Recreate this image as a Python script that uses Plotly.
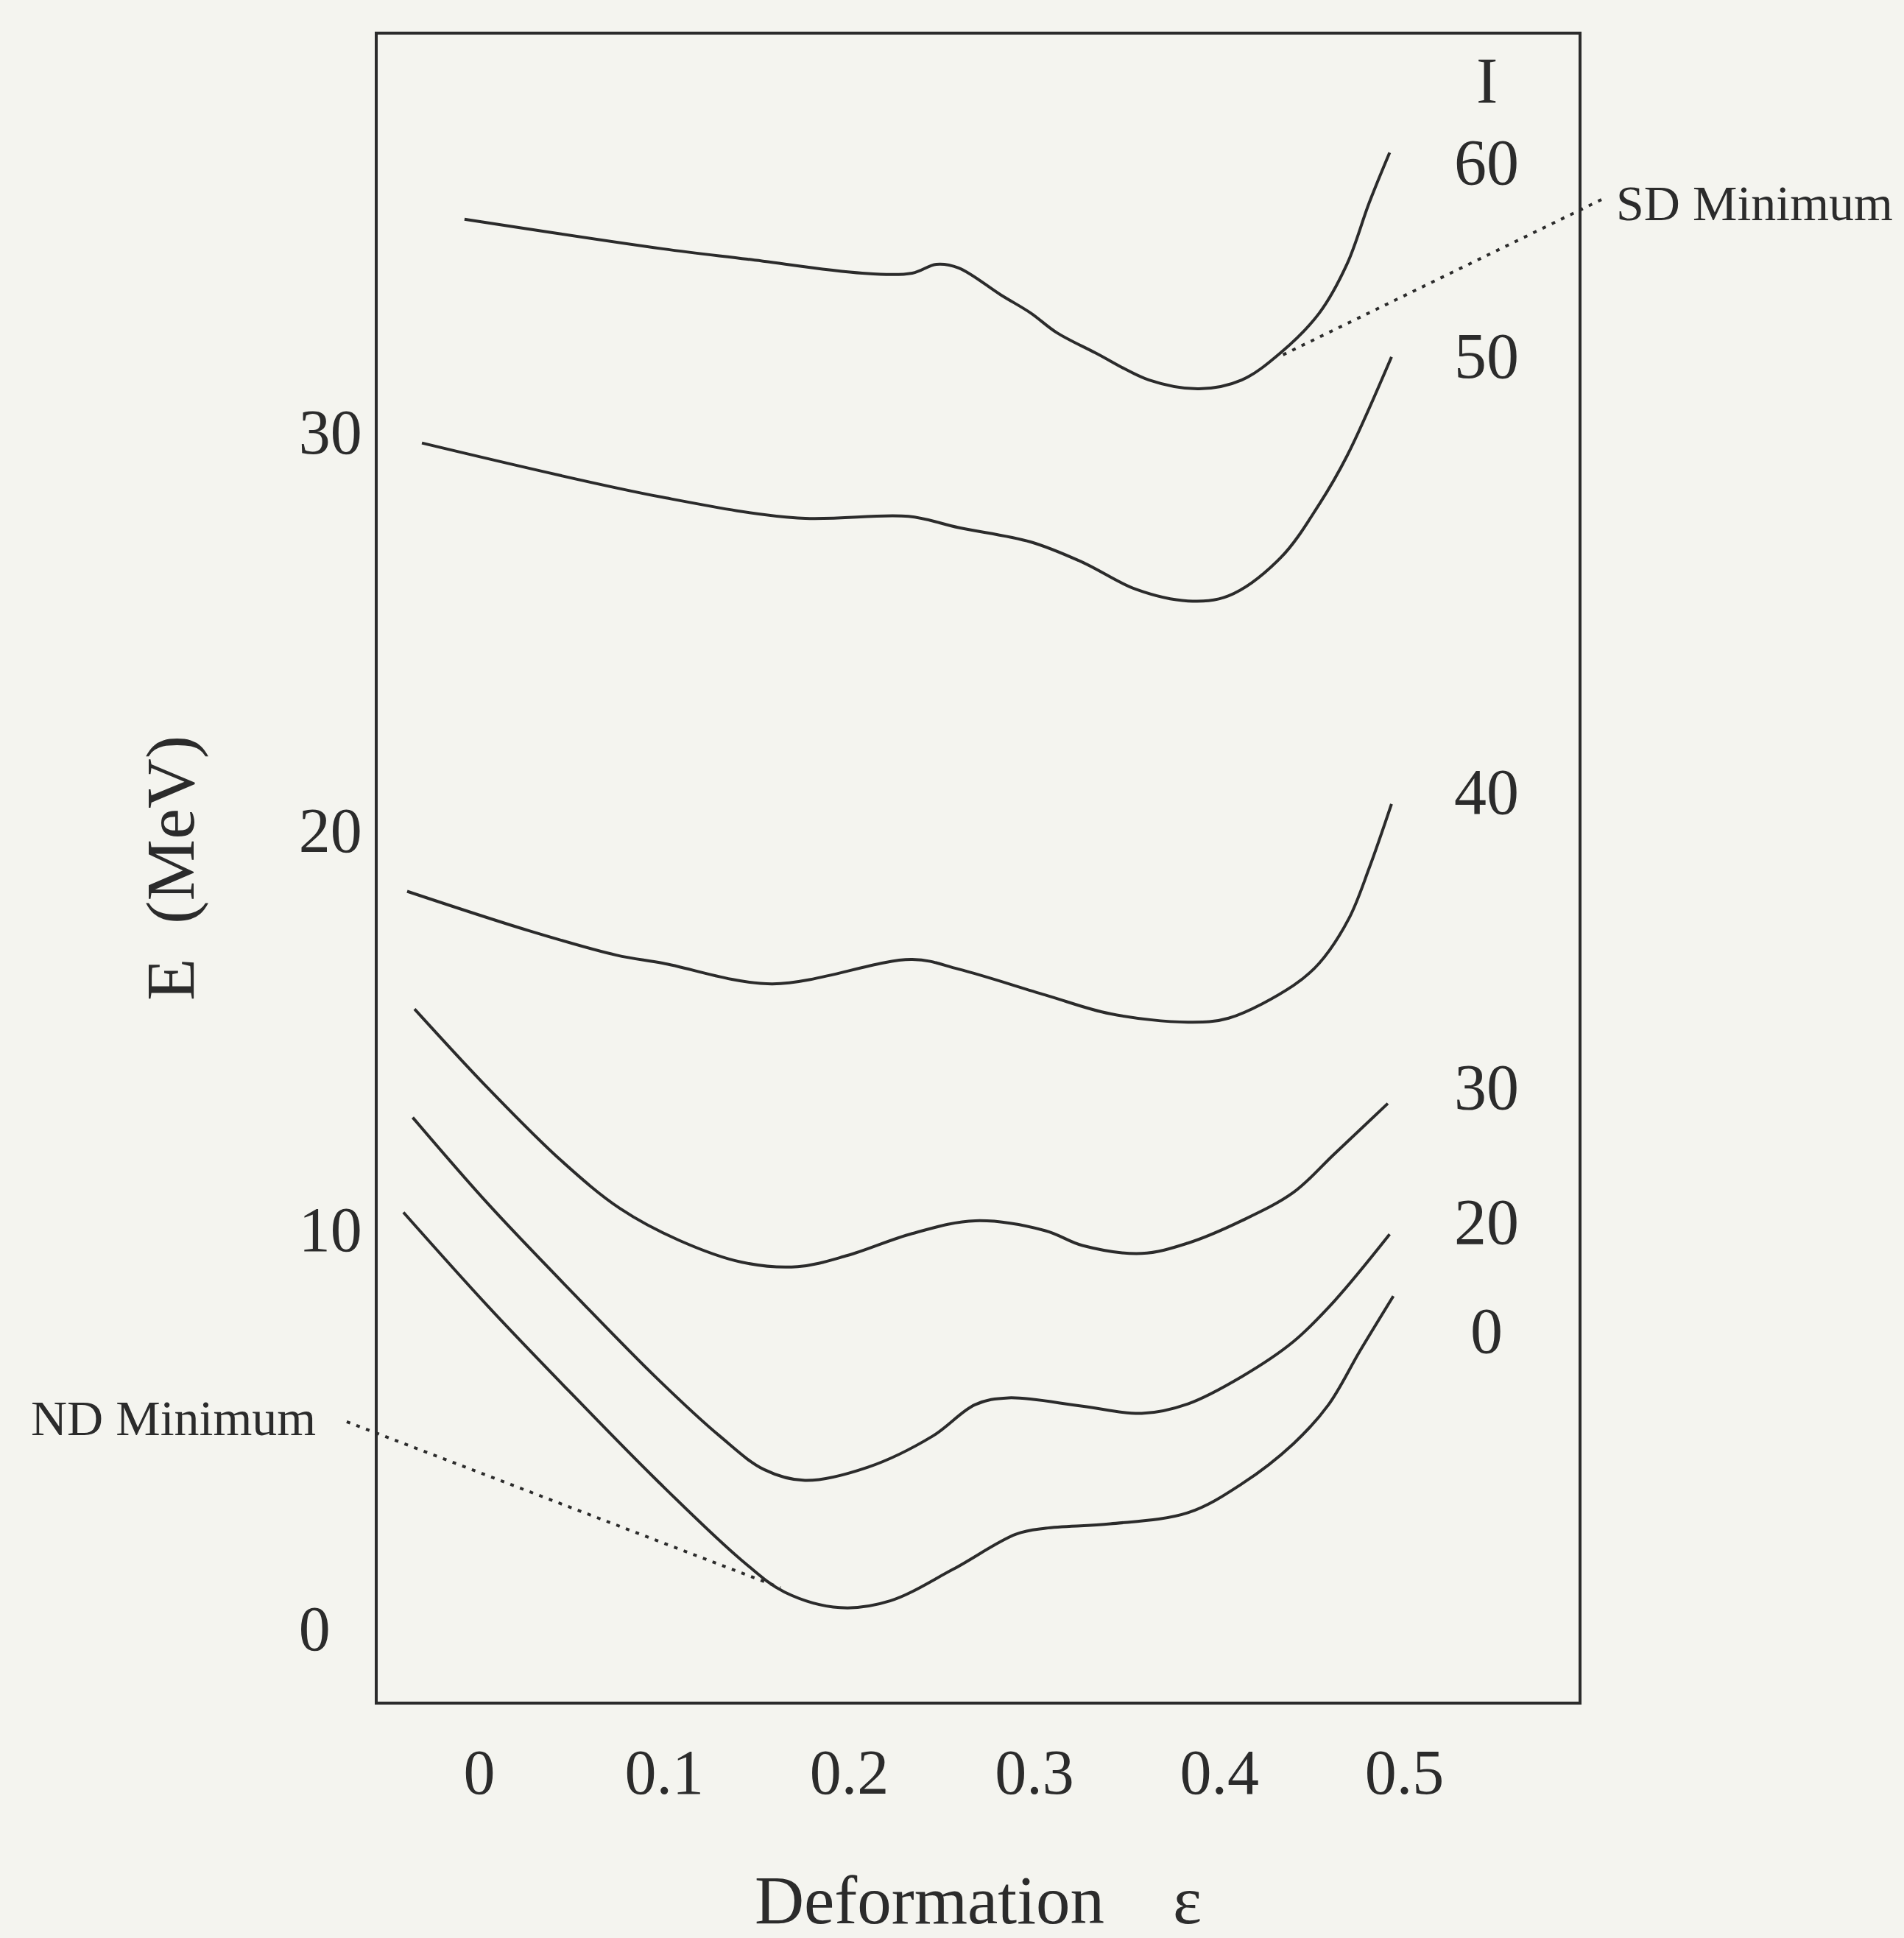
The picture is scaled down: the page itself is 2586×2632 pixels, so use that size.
import plotly.graph_objects as go

# ---- data (deformation epsilon, energy in MeV) ----
eps_I60 = [-0.008, 0.099, 0.145, 0.207, 0.234, 0.247, 0.259, 0.282, 0.298, 0.312, 0.333, 0.362, 0.389, 0.412, 0.433, 0.454, 0.469, 0.481, 0.492]
E_I60 = [35.31, 34.57, 34.31, 33.96, 33.96, 34.18, 34.09, 33.41, 32.96, 32.47, 31.96, 31.28, 31.06, 31.28, 31.96, 32.96, 34.19, 35.73, 36.98]

eps_I50 = [-0.031, 0.099, 0.172, 0.232, 0.259, 0.298, 0.326, 0.355, 0.383, 0.405, 0.433, 0.454, 0.469, 0.493]
E_I50 = [29.70, 28.34, 27.82, 27.86, 27.58, 27.22, 26.71, 26.03, 25.74, 25.87, 26.82, 28.17, 29.38, 31.86]

eps_I40 = [-0.039, 0.027, 0.074, 0.099, 0.158, 0.234, 0.259, 0.306, 0.341, 0.383, 0.405, 0.440, 0.454, 0.470, 0.481, 0.493]
E_I40 = [18.46, 17.47, 16.86, 16.66, 16.14, 16.75, 16.51, 15.86, 15.39, 15.18, 15.28, 16.10, 16.66, 17.78, 19.05, 20.65]

eps_I30 = [-0.035, 0.005, 0.044, 0.076, 0.108, 0.142, 0.172, 0.199, 0.234, 0.268, 0.306, 0.326, 0.358, 0.383, 0.412, 0.440, 0.462, 0.491]
E_I30 = [15.51, 13.51, 11.72, 10.51, 9.71, 9.16, 9.05, 9.33, 9.88, 10.20, 9.95, 9.58, 9.38, 9.64, 10.20, 10.91, 11.87, 13.14]

eps_I20 = [-0.036, 0.005, 0.051, 0.096, 0.130, 0.154, 0.176, 0.210, 0.245, 0.268, 0.286, 0.326, 0.358, 0.383, 0.412, 0.440, 0.462, 0.492]
E_I20 = [12.79, 10.61, 8.37, 6.25, 4.80, 3.96, 3.69, 4.02, 4.80, 5.59, 5.76, 5.55, 5.37, 5.61, 6.29, 7.17, 8.18, 9.86]

eps_I0 = [-0.041, 0.005, 0.051, 0.096, 0.142, 0.165, 0.195, 0.222, 0.256, 0.290, 0.306, 0.341, 0.383, 0.412, 0.440, 0.459, 0.476, 0.494]
E_I0 = [10.41, 8.04, 5.81, 3.69, 1.68, 0.89, 0.50, 0.67, 1.46, 2.34, 2.49, 2.60, 2.88, 3.60, 4.61, 5.59, 6.94, 8.31]

spin_labels = ["60", "50", "40", "30", "20", "0"]
x_ticks = [0, 0.1, 0.2, 0.3, 0.4, 0.5]
x_tick_text = ["0", "0.1", "0.2", "0.3", "0.4", "0.5"]
y_ticks = [0, 10, 20, 30]
y_tick_text = ["0\u2007", "10", "20", "30"]

curves = [
    (eps_I60, E_I60), (eps_I50, E_I50), (eps_I40, E_I40),
    (eps_I30, E_I30), (eps_I20, E_I20), (eps_I0, E_I0),
]

INK = "#2b2b2b"
BG = "#f4f4ef"
SERIF = "Liberation Serif, Times New Roman, serif"

fig = go.Figure()
for (xs, ys), name in zip(curves, spin_labels):
    fig.add_trace(go.Scatter(
        x=xs, y=ys, mode="lines", name="I=" + name,
        line=dict(color=INK, width=4, shape="spline", smoothing=1.0),
        showlegend=False, hoverinfo="skip",
    ))

# spin labels at right side of the frame
label_y = {"I": 38.78, "60": 36.74, "50": 31.88, "40": 20.95, "30": 13.55, "20": 10.18, "0": 7.43}
annotations = []
for txt in ["I"] + spin_labels:
    annotations.append(dict(
        x=0.5445, y=label_y[txt], xref="x", yref="y", text=txt, showarrow=False,
        font=dict(family=SERIF, size=88, color=INK), xanchor="center", yanchor="middle",
    ))

annotations.append(dict(
    x=1.030, y=0.899, xref="paper", yref="paper", text="SD Minimum", showarrow=False,
    font=dict(family=SERIF, size=68, color=INK), xanchor="left", yanchor="middle",
))
annotations.append(dict(
    x=-0.050, y=0.170, xref="paper", yref="paper", text="ND Minimum", showarrow=False,
    font=dict(family=SERIF, size=68, color=INK), xanchor="right", yanchor="middle",
))

shapes = [
    dict(type="line", xref="paper", yref="paper", x0=1.0190, y0=0.9010, x1=0.7498, y1=0.8065,
         line=dict(color=INK, width=4, dash="5px,9px")),
    dict(type="line", xref="paper", yref="paper", x0=-0.0258, y0=0.1679, x1=0.3354, y1=0.0683,
         line=dict(color=INK, width=4, dash="5px,9px")),
]

fig.update_layout(
    width=2586, height=2632,
    margin=dict(l=513, r=442, t=47, b=316),
    paper_bgcolor=BG, plot_bgcolor=BG,
    annotations=annotations, shapes=shapes,
    font=dict(family=SERIF, color=INK),
)
fig.update_xaxes(
    range=[-0.0549, 0.5941], tickvals=x_ticks, ticktext=x_tick_text,
    showgrid=False, zeroline=False, ticks="", ticklabelstandoff=18,
    showline=True, mirror=True, linecolor=INK, linewidth=4,
    tickfont=dict(family=SERIF, size=86, color=INK),
    title=dict(text="Deformation    ε", font=dict(family=SERIF, size=93, color=INK), standoff=100),
)
fig.update_yaxes(
    range=[-1.857, 39.94], tickvals=y_ticks, ticktext=y_tick_text,
    showgrid=False, zeroline=False, ticks="", ticklabelstandoff=0,
    showline=True, mirror=True, linecolor=INK, linewidth=4,
    tickfont=dict(family=SERIF, size=86, color=INK),
    title=dict(text="E  (MeV)", font=dict(family=SERIF, size=94, color=INK), standoff=112),
)

post_js = ("document.body.style.margin='0';document.body.style.padding='0';"
           "document.body.style.overflow='hidden';document.body.style.background='" + BG + "';")
fig.write_html("out.html", post_script=post_js, config={"displayModeBar": False})
